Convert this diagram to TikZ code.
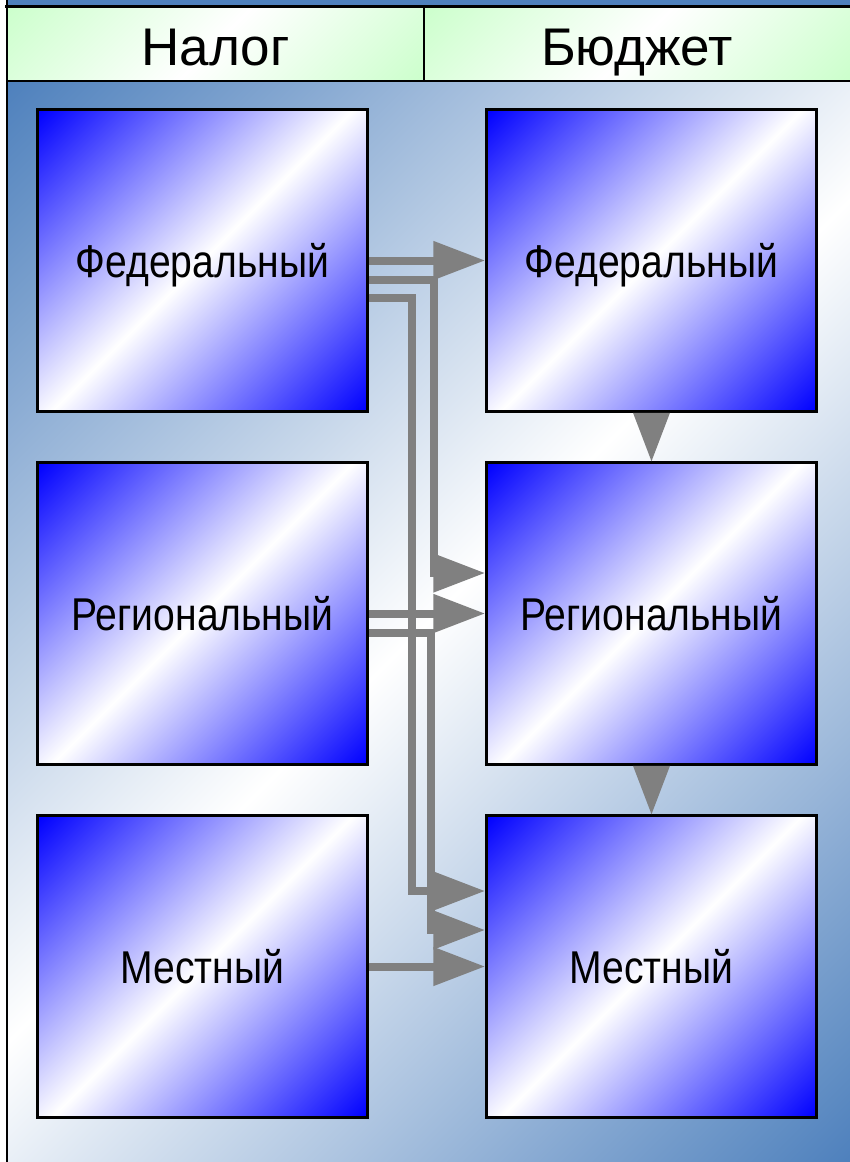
\documentclass[tikz,border=0pt]{standalone}
\usepackage{fontspec}
\usepackage{graphicx}
\setmainfont{Liberation Sans}
\usetikzlibrary{arrows.meta,calc}
\definecolor{bgblue}{RGB}{79,129,189}
\definecolor{hdrgreen}{RGB}{204,255,204}
\definecolor{arrgray}{RGB}{128,128,128}
\newcommand{\narrowtext}[1]{\scalebox{0.85}[1]{#1}}
\pgfdeclareverticalshading{boxshade}{100bp}{color(0bp)=(blue); color(14.64bp)=(blue); color(50bp)=(white); color(85.36bp)=(blue); color(100bp)=(blue)}
\pgfdeclareverticalshading{bgshade}{100bp}{color(0bp)=(bgblue); color(14.64bp)=(bgblue); color(50bp)=(white); color(85.36bp)=(bgblue); color(100bp)=(bgblue)}
\pgfdeclareverticalshading{hdrshade}{100bp}{color(0bp)=(hdrgreen); color(14.64bp)=(hdrgreen); color(50bp)=(white); color(85.36bp)=(hdrgreen); color(100bp)=(hdrgreen)}
\tikzset{
  levelbox/.style={draw=black, line width=2.5pt, shading=boxshade, shading angle=45,
    minimum width=330pt, minimum height=302pt, inner sep=0pt,
    text height=34pt, text depth=0pt, font=\fontsize{46}{46}\selectfont},
  hcell/.style={shading=hdrshade, shading angle=45, inner sep=0pt,
    text height=43pt, text depth=0pt, font=\fontsize{53}{53}\selectfont},
  conn/.style={draw=arrgray, line width=8pt, line join=miter,
    -{Triangle[length=52pt,width=37pt]}},
  vtip/.style={fill=arrgray}
}
\begin{document}
\begin{tikzpicture}[x=1pt,y=-1pt]
\useasboundingbox (0,0) rectangle (850,1162);
\fill[white] (0,0) rectangle (850,1162);
% top band
\fill[bgblue] (7,0) rectangle (850,6);
% background
\shade[shading=bgshade, shading angle=45] (7,81) rectangle (850,1162);
% header cells
\node[hcell, minimum width=417pt, minimum height=74pt] (h1) at (215.5,43.5) {Налог};
\node[hcell, minimum width=426pt, minimum height=74pt] (h2) at (637,43.5) {Бюджет};
% frame lines
\draw[black, line width=3pt] (5,6) -- (850,6);
\draw[black, line width=2.5pt] (7,0) -- (7,1162);
\draw[black, line width=2pt] (7,80.5) -- (850,80.5);
\draw[black, line width=2.5pt] (h1.north east) -- (h1.south east);
% boxes
\node[levelbox] (ft) at (202.5,260.5) {\narrowtext{Федеральный}};
\node[levelbox] (rt) at (202.5,613.5) {\narrowtext{Региональный}};
\node[levelbox] (lt) at (202.5,966.5) {\narrowtext{Местный}};
\node[levelbox] (fb) at (651.5,260.5) {\narrowtext{Федеральный}};
\node[levelbox] (rb) at (651.5,613.5) {\narrowtext{Региональный}};
\node[levelbox] (lb) at (651.5,966.5) {\narrowtext{Местный}};
% connectors
\draw[conn] (ft.east) -- (fb.west);
\draw[conn] ($(ft.east)+(0,19.5)$) -- ++(65.5,0) |- ($(rb.west)+(0,-40.5)$);
\draw[conn] ($(ft.east)+(0,37.5)$) -- ++(43.5,0) |- ($(lb.west)+(0,-75.5)$);
\draw[conn] (rt.east) -- (rb.west);
\draw[conn] ($(rt.east)+(0,19.5)$) -- ++(62.5,0) |- ($(lb.west)+(0,-36.5)$);
\draw[conn] (lt.east) -- (lb.west);
\fill[vtip] ($(fb.south)+(-18.5,0)$) -- ($(fb.south)+(18.5,0)$) -- (rb.north) -- cycle;
\fill[vtip] ($(rb.south)+(-18.5,0)$) -- ($(rb.south)+(18.5,0)$) -- (lb.north) -- cycle;
\end{tikzpicture}
\end{document}
